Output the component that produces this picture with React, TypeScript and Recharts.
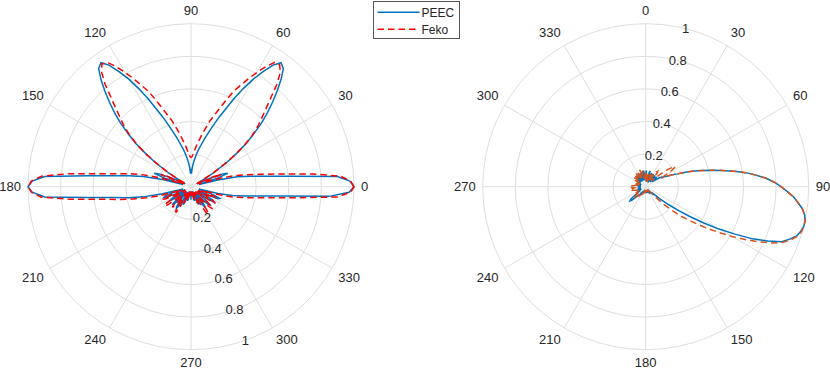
import React from 'react';
import { RadarChart, PolarGrid, PolarAngleAxis, PolarRadiusAxis, Radar } from 'recharts';

// sample angles (deg), shared by both patterns
const thetaDeg = [
  0, 2, 4, 6, 8, 10, 12, 14, 16, 18,
  20, 22, 24, 26, 28, 30, 32, 34, 36, 38,
  40, 42, 44, 46, 48, 50, 52, 54, 56, 58,
  60, 62, 64, 66, 68, 70, 72, 74, 76, 78,
  80, 82, 84, 86, 88, 90, 92, 94, 96, 98,
  100, 102, 104, 106, 108, 110, 112, 114, 116, 118,
  120, 122, 124, 126, 128, 130, 132, 134, 136, 138,
  140, 142, 144, 146, 148, 150, 152, 154, 156, 158,
  160, 162, 164, 166, 168, 170, 172, 174, 176, 178,
  180, 182, 184, 186, 188, 190, 192, 194, 196, 198,
  200, 202, 204, 206, 208, 210, 212, 214, 216, 218,
  220, 222, 224, 226, 228, 230, 232, 234, 236, 238,
  240, 242, 244, 246, 248, 250, 252, 254, 256, 258,
  260, 262, 264, 266, 268, 270, 272, 274, 276, 278,
  280, 282, 284, 286, 288, 290, 292, 294, 296, 298,
  300, 302, 304, 306, 308, 310, 312, 314, 316, 318,
  320, 322, 324, 326, 328, 330, 332, 334, 336, 338,
  340, 342, 344, 346, 348, 350, 352, 354, 356, 358,
];

// left plot (theta 0 at right, counter-clockwise)
const leftPeec = [
  1.0, 0.975, 0.9, 0.62, 0.46, 0.37, 0.29, 0.17, 0.05, 0.17,
  0.24, 0.21, 0.12, 0.04, 0.05, 0.11, 0.17, 0.26, 0.34, 0.43,
  0.5, 0.58, 0.65, 0.72, 0.79, 0.86, 0.92, 0.94, 0.9, 0.83,
  0.76, 0.68, 0.6, 0.52, 0.46, 0.4, 0.35, 0.31, 0.27, 0.24,
  0.21, 0.18, 0.15, 0.12, 0.08, 0.11, 0.08, 0.12, 0.15, 0.18,
  0.21, 0.24, 0.27, 0.31, 0.35, 0.4, 0.46, 0.52, 0.6, 0.68,
  0.76, 0.83, 0.9, 0.94, 0.92, 0.86, 0.79, 0.72, 0.65, 0.58,
  0.5, 0.43, 0.34, 0.26, 0.17, 0.11, 0.05, 0.04, 0.12, 0.21,
  0.24, 0.17, 0.05, 0.18, 0.3, 0.39, 0.48, 0.64, 0.9, 0.975,
  1.0, 0.975, 0.9, 0.64, 0.48, 0.39, 0.3, 0.18, 0.05, 0.12,
  0.17, 0.18, 0.15, 0.08, 0.04, 0.1, 0.14, 0.15, 0.12, 0.06,
  0.05, 0.12, 0.16, 0.14, 0.08, 0.04, 0.1, 0.15, 0.16, 0.13,
  0.07, 0.04, 0.09, 0.12, 0.11, 0.06, 0.03, 0.06, 0.09, 0.08,
  0.04, 0.03, 0.06, 0.05, 0.03, 0.08, 0.03, 0.05, 0.06, 0.03,
  0.04, 0.08, 0.09, 0.06, 0.03, 0.07, 0.11, 0.12, 0.09, 0.04,
  0.06, 0.12, 0.15, 0.14, 0.08, 0.04, 0.1, 0.15, 0.16, 0.12,
  0.06, 0.05, 0.13, 0.17, 0.16, 0.1, 0.05, 0.12, 0.18, 0.19,
  0.15, 0.08, 0.05, 0.17, 0.26, 0.33, 0.41, 0.55, 0.85, 0.97,
];

const leftFeko = [
  1.0, 0.98, 0.92, 0.75, 0.56, 0.44, 0.35, 0.28, 0.2, 0.08,
  0.05, 0.2, 0.16, 0.06, 0.04, 0.08, 0.16, 0.25, 0.34, 0.42,
  0.49, 0.55, 0.6, 0.66, 0.73, 0.82, 0.89, 0.925, 0.92, 0.87,
  0.81, 0.75, 0.69, 0.64, 0.57, 0.51, 0.46, 0.42, 0.37, 0.33,
  0.29, 0.26, 0.23, 0.2, 0.185, 0.18, 0.185, 0.2, 0.23, 0.26,
  0.29, 0.33, 0.37, 0.42, 0.46, 0.51, 0.57, 0.64, 0.69, 0.75,
  0.81, 0.87, 0.92, 0.93, 0.89, 0.82, 0.73, 0.66, 0.6, 0.55,
  0.49, 0.42, 0.34, 0.25, 0.16, 0.08, 0.04, 0.06, 0.16, 0.2,
  0.05, 0.08, 0.2, 0.3, 0.38, 0.46, 0.57, 0.76, 0.92, 0.98,
  1.0, 0.98, 0.92, 0.74, 0.55, 0.45, 0.36, 0.28, 0.2, 0.08,
  0.06, 0.14, 0.19, 0.17, 0.08, 0.04, 0.12, 0.18, 0.2, 0.18,
  0.1, 0.04, 0.1, 0.15, 0.17, 0.14, 0.06, 0.05, 0.14, 0.18,
  0.18, 0.12, 0.04, 0.07, 0.11, 0.1, 0.05, 0.03, 0.07, 0.08,
  0.05, 0.03, 0.05, 0.06, 0.04, 0.03, 0.04, 0.06, 0.05, 0.03,
  0.05, 0.08, 0.07, 0.03, 0.05, 0.1, 0.11, 0.07, 0.04, 0.12,
  0.18, 0.2, 0.18, 0.1, 0.04, 0.1, 0.16, 0.19, 0.17, 0.1,
  0.04, 0.1, 0.16, 0.18, 0.15, 0.08, 0.05, 0.12, 0.17, 0.15,
  0.07, 0.08, 0.18, 0.26, 0.32, 0.39, 0.49, 0.65, 0.9, 0.98,
];

// right plot (theta 0 at top, clockwise)
const rightPeec = [
  0.06, 0.1, 0.05, 0.03, 0.07, 0.04, 0.06, 0.09, 0.1, 0.06,
  0.03, 0.07, 0.09, 0.05, 0.03, 0.06, 0.09, 0.07, 0.04, 0.06,
  0.09, 0.07, 0.04, 0.06, 0.09, 0.08, 0.05, 0.06, 0.09, 0.11,
  0.12, 0.13, 0.15, 0.18, 0.21, 0.26, 0.31, 0.36, 0.42, 0.48,
  0.55, 0.62, 0.68, 0.74, 0.79, 0.83, 0.87, 0.91, 0.94, 0.97,
  0.99, 1.0, 1.0, 0.99, 0.975, 0.94, 0.9, 0.82, 0.73, 0.62,
  0.52, 0.42, 0.33, 0.25, 0.18, 0.12, 0.08, 0.05, 0.07, 0.05,
  0.03, 0.05, 0.04, 0.02, 0.04, 0.05, 0.03, 0.02, 0.04, 0.03,
  0.02, 0.03, 0.04, 0.02, 0.03, 0.02, 0.03, 0.04, 0.02, 0.03,
  0.02, 0.03, 0.02, 0.04, 0.03, 0.02, 0.03, 0.04, 0.02, 0.03,
  0.04, 0.03, 0.05, 0.04, 0.03, 0.05, 0.06, 0.04, 0.05, 0.07,
  0.06, 0.08, 0.1, 0.12, 0.13, 0.12, 0.08, 0.05, 0.04, 0.06,
  0.05, 0.03, 0.04, 0.05, 0.03, 0.04, 0.05, 0.03, 0.04, 0.05,
  0.03, 0.04, 0.05, 0.03, 0.04, 0.05, 0.03, 0.04, 0.05, 0.04,
  0.03, 0.05, 0.06, 0.04, 0.03, 0.05, 0.06, 0.04, 0.03, 0.05,
  0.06, 0.04, 0.05, 0.07, 0.05, 0.04, 0.06, 0.07, 0.05, 0.07,
  0.08, 0.05, 0.04, 0.07, 0.09, 0.06, 0.04, 0.07, 0.09, 0.06,
  0.04, 0.07, 0.09, 0.06, 0.04, 0.07, 0.1, 0.08, 0.05, 0.04,
];

const rightFeko = [
  0.04, 0.07, 0.09, 0.05, 0.03, 0.06, 0.08, 0.05, 0.03, 0.05,
  0.08, 0.06, 0.04, 0.06, 0.09, 0.07, 0.05, 0.08, 0.11, 0.12,
  0.11, 0.07, 0.05, 0.06, 0.09, 0.13, 0.17, 0.2, 0.22, 0.19,
  0.13, 0.12, 0.15, 0.18, 0.21, 0.26, 0.31, 0.36, 0.42, 0.48,
  0.55, 0.62, 0.68, 0.74, 0.79, 0.83, 0.87, 0.91, 0.94, 0.97,
  0.99, 1.0, 1.0, 0.995, 0.98, 0.95, 0.91, 0.85, 0.77, 0.69,
  0.61, 0.53, 0.46, 0.39, 0.33, 0.28, 0.22, 0.16, 0.1, 0.06,
  0.04, 0.05, 0.03, 0.04, 0.02, 0.03, 0.04, 0.02, 0.03, 0.02,
  0.03, 0.02, 0.03, 0.04, 0.02, 0.03, 0.02, 0.03, 0.02, 0.03,
  0.02, 0.03, 0.04, 0.02, 0.03, 0.04, 0.02, 0.03, 0.04, 0.03,
  0.04, 0.05, 0.04, 0.05, 0.06, 0.05, 0.06, 0.07, 0.06, 0.07,
  0.08, 0.07, 0.08, 0.09, 0.08, 0.07, 0.06, 0.07, 0.08, 0.06,
  0.05, 0.06, 0.05, 0.04, 0.05, 0.06, 0.07, 0.08, 0.09, 0.1,
  0.09, 0.08, 0.07, 0.08, 0.09, 0.1, 0.1, 0.09, 0.07, 0.06,
  0.05, 0.06, 0.07, 0.05, 0.04, 0.06, 0.07, 0.05, 0.04, 0.06,
  0.08, 0.06, 0.05, 0.07, 0.09, 0.07, 0.05, 0.07, 0.09, 0.08,
  0.06, 0.08, 0.1, 0.08, 0.06, 0.08, 0.1, 0.09, 0.06, 0.08,
  0.11, 0.09, 0.06, 0.08, 0.1, 0.07, 0.05, 0.07, 0.09, 0.06,
];

const angleTicks = [0, 30, 60, 90, 120, 150, 180, 210, 240, 270, 300, 330];
const radiusTicks = [0, 0.2, 0.4, 0.6, 0.8, 1];

const leftData = thetaDeg.map((theta, i) => ({ theta, peec: leftPeec[i], feko: leftFeko[i] }));
const rightData = thetaDeg.map((theta, i) => ({ theta, peec: rightPeec[i], feko: rightFeko[i] }));

const FONT = '"Liberation Sans", Arial, Helvetica, sans-serif';
const TEXT = '#262626';
const GRID = '#dedede';
const BLUE = '#0072BD';

const AngleTick = (props: any) => {
  const { x, y, payload, textAnchor } = props;
  if (payload.value === 360) return <g />;
  const s = Math.sin((payload.coordinate * Math.PI) / 180);
  // labels above the centre sit on their anchor, those below hang from it
  const dy = s > 0.01 ? -2 : s < -0.01 ? 10.5 : 4.6;
  return (
    <text x={x} y={y} dy={dy} textAnchor={textAnchor} fill={TEXT} fontSize={13} fontFamily={FONT}>
      {payload.value}
    </text>
  );
};

const RadiusTick = (props: any) => {
  const { x, y, payload } = props;
  if (payload.value === 0) return <g />;
  return (
    <text x={x} y={y} dy={4.6} textAnchor="middle" fill={TEXT} fontSize={13} fontFamily={FONT}>
      {payload.value}
    </text>
  );
};

interface PolarPlotProps {
  data: { theta: number; peec: number; feko: number }[];
  cx: number;
  startAngle: number;
  endAngle: number;
  radiusAngle: number;
  fekoColor: string;
}

const PolarPlot: React.FC<PolarPlotProps> = ({ data, cx, startAngle, endAngle, radiusAngle, fekoColor }) => (
  <RadarChart
    width={415}
    height={370}
    data={data}
    cx={cx}
    cy={186.7}
    outerRadius={163}
    startAngle={startAngle}
    endAngle={endAngle}
    margin={{ top: 0, right: 0, bottom: 0, left: 0 }}
  >
    <PolarGrid gridType="circle" stroke={GRID} strokeWidth={1} />
    <PolarAngleAxis
      dataKey="theta"
      type="number"
      domain={[0, 360]}
      ticks={angleTicks as any}
      tickCount={13}
      tick={<AngleTick />}
      tickSize={7}
      tickLine={false}
      axisLine={false}
    />
    <PolarRadiusAxis
      type="number"
      domain={[0, 1]}
      tickCount={6}
      ticks={radiusTicks as any}
      angle={radiusAngle}
      tick={<RadiusTick />}
      axisLine={false}
      tickLine={false}
    />
    <Radar
      dataKey="peec"
      stroke={BLUE}
      strokeWidth={1.5}
      fill="none"
      fillOpacity={0}
      dot={false}
      isAnimationActive={false}
    />
    <Radar
      dataKey="feko"
      stroke={fekoColor}
      strokeWidth={1.5}
      strokeDasharray="6.5 4"
      fill="none"
      fillOpacity={0}
      dot={false}
      isAnimationActive={false}
    />
  </RadarChart>
);

export default function App() {
  return (
    <div style={{ position: 'absolute', left: 0, top: 0, width: 830, height: 370, background: '#fff' }}>
      <div style={{ position: 'absolute', left: 0, top: 0 }}>
        <PolarPlot data={leftData} cx={191} startAngle={0} endAngle={360} radiusAngle={-70.5} fekoColor="#FF0000" />
      </div>
      <div style={{ position: 'absolute', left: 415, top: 0 }}>
        <PolarPlot data={rightData} cx={230.7} startAngle={90} endAngle={-270} radiusAngle={75.8} fekoColor="#D95319" />
      </div>
      {/* legend box between the two plots */}
      <svg width={90} height={40} style={{ position: 'absolute', left: 372, top: 0 }}>
        <rect x={1.5} y={1.5} width={86} height={37} fill="#fff" stroke="#555" strokeWidth={1} />
        <line x1={5.5} y1={12.3} x2={47.5} y2={12.3} stroke={BLUE} strokeWidth={1.5} />
        <line x1={5.5} y1={29.3} x2={47.5} y2={29.3} stroke="#FF0000" strokeWidth={1.5} strokeDasharray="6.5 4" />
        <text x={49.5} y={12.3} dy={4.3} fill={TEXT} fontSize={12} fontFamily={FONT}>PEEC</text>
        <text x={49.5} y={29.3} dy={4.3} fill={TEXT} fontSize={12} fontFamily={FONT}>Feko</text>
      </svg>
    </div>
  );
}
